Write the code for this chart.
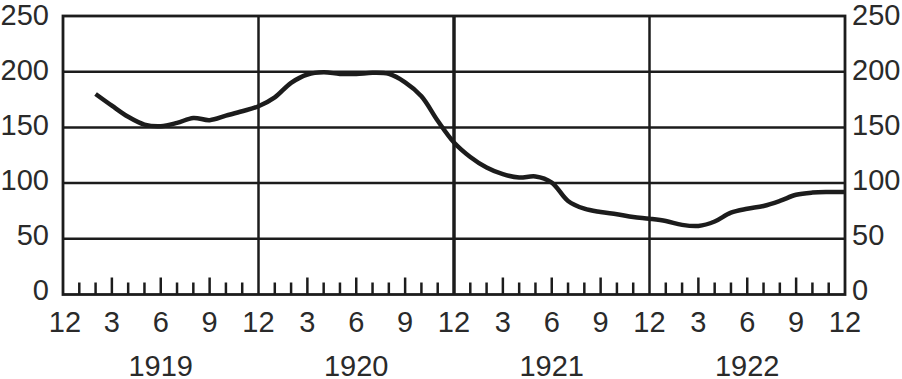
<!DOCTYPE html>
<html>
<head>
<meta charset="utf-8">
<script src="https://cdn.jsdelivr.net/npm/d3@7"></script>
<style>
  html, body { margin: 0; padding: 0; background: #fff; }
  svg text { font-family: "Liberation Sans", Arial, sans-serif; fill: #2a2a2a; }
</style>
</head>
<body>
<div id="svg-container"></div>
<script>
////////////////////////////////////////////////////////////////////
////////////////////////////  Data  ////////////////////////////////
// month index: 0 = Dec 1918, 48 = Dec 1922
const months = d3.range(2, 49);
const values = [
  180, 169.5, 159.5, 152.5, 151, 154, 158.5, 156.5, 160.5, 164.5, 169,
  177, 190, 197.5, 199.5, 198, 198, 199, 198, 190.5, 178, 156,
  136.5, 123.5, 114, 108, 105, 106, 100.5, 84, 77, 74, 72, 69.5,
  68, 66, 62.5, 61.5, 65.5, 73.5, 77, 79.5, 84, 89.5, 91.5, 92, 92,
];
const yTicks = [0, 50, 100, 150, 200, 250];
const monthLabels = ["12", "3", "6", "9"];
const years = ["1919", "1920", "1921", "1922"];

////////////////////////////////////////////////////////////////////
////////////////////////////  Init  ///////////////////////////////
const width = 902;
const height = 379;
const margin = { top: 16, right: 57, bottom: 84, left: 63 };

const svg = d3
  .select("#svg-container")
  .append("svg")
  .attr("width", width)
  .attr("height", height);

const x = d3
  .scaleLinear()
  .domain([0, 48])
  .range([margin.left, width - margin.right]);

const y = d3
  .scaleLinear()
  .domain([0, 250])
  .range([height - margin.bottom - 0.5, margin.top]);

const ink = "#1c1c1c";

// horizontal grid
svg
  .selectAll(".hgrid")
  .data(yTicks.filter((d) => d > 0 && d < 250))
  .enter()
  .append("line")
  .attr("x1", x(0))
  .attr("x2", x(48))
  .attr("y1", (d) => y(d))
  .attr("y2", (d) => y(d))
  .attr("stroke", ink)
  .attr("stroke-width", 2.5);

// year separators
svg
  .selectAll(".vgrid")
  .data([12, 24, 36])
  .enter()
  .append("line")
  .attr("x1", (d) => x(d))
  .attr("x2", (d) => x(d))
  .attr("y1", y(250))
  .attr("y2", y(0))
  .attr("stroke", ink)
  .attr("stroke-width", (d) => (d === 24 ? 3.5 : 2.5));

// frame
svg
  .append("rect")
  .attr("x", x(0))
  .attr("y", y(250))
  .attr("width", x(48) - x(0))
  .attr("height", y(0) - y(250))
  .attr("fill", "none")
  .attr("stroke", ink)
  .attr("stroke-width", 2.8);

// month ticks (taller at 3, 6, 9)
svg
  .selectAll(".tick")
  .data(d3.range(1, 48).filter((d) => d % 12 !== 0))
  .enter()
  .append("line")
  .attr("x1", (d) => x(d))
  .attr("x2", (d) => x(d))
  .attr("y1", y(0))
  .attr("y2", (d) => y(0) - (d % 3 === 0 ? 17 : 12))
  .attr("stroke", ink)
  .attr("stroke-width", 2.5);

// y labels, both sides
const fontSize = 29;
svg
  .selectAll(".ylab-left")
  .data(yTicks)
  .enter()
  .append("text")
  .attr("x", x(0) - 14)
  .attr("y", (d) => y(d) + 5 + (d / 250) * 4)
  .attr("text-anchor", "end")
  .style("font-size", fontSize + "px")
  .text((d) => d);

svg
  .selectAll(".ylab-right")
  .data(yTicks)
  .enter()
  .append("text")
  .attr("x", x(48) + 7)
  .attr("y", (d) => y(d) + 5 + (d / 250) * 4)
  .attr("text-anchor", "start")
  .style("font-size", fontSize + "px")
  .text((d) => d);

// month labels
svg
  .selectAll(".mlab")
  .data(d3.range(0, 49, 3))
  .enter()
  .append("text")
  .attr("x", (d) => x(d) + (d === 0 ? 2 : 0))
  .attr("y", 332)
  .attr("text-anchor", "middle")
  .style("font-size", fontSize + "px")
  .text((d) => monthLabels[(d / 3) % 4]);

// year labels
svg
  .selectAll(".ylabel")
  .data(years)
  .enter()
  .append("text")
  .attr("x", (d, i) => x(i * 12 + 6))
  .attr("y", 376)
  .attr("text-anchor", "middle")
  .style("font-size", fontSize + "px")
  .text((d) => d);

// the curve
const line = d3
  .line()
  .curve(d3.curveCatmullRom.alpha(0.5))
  .x((d, i) => x(months[i]))
  .y((d) => y(d));

svg
  .append("path")
  .datum(values)
  .attr("d", line)
  .attr("fill", "none")
  .attr("stroke", ink)
  .attr("stroke-width", 4.5)
  .attr("stroke-linejoin", "round");
</script>
</body>
</html>
